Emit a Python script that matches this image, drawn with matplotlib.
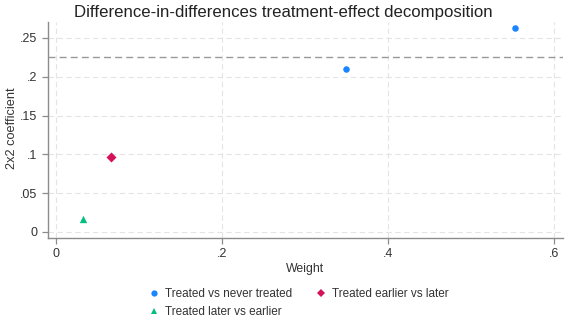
import matplotlib
matplotlib.use("Agg")
import matplotlib.pyplot as plt
from matplotlib.lines import Line2D

plt.rcParams['font.family'] = ['Liberation Sans', 'DejaVu Sans']

# Data
series_names = ["Treated vs never treated", "Treated earlier vs later", "Treated later vs earlier"]
never_w = [0.349, 0.553]
never_b = [0.2095, 0.263]
earlier_w = [0.066]
earlier_b = [0.096]
later_w = [0.033]
later_b = [0.017]
overall_effect = 0.2255
xticks = [0, 0.2, 0.4, 0.6]
xticklabels = ["0", ".2", ".4", ".6"]
yticks = [0, 0.05, 0.1, 0.15, 0.2, 0.25]
yticklabels = ["0", ".05", ".1", ".15", ".2", ".25"]

c_blue = "#1a85ff"
c_red = "#d41159"
c_green = "#00bf7f"
gray = "#8c8c8c"

fig = plt.figure(figsize=(5.66, 3.19), dpi=100)
ax = fig.add_axes([48/566, 1-238/319, (563-48)/566, (238-22)/319])

ax.scatter(never_w, never_b, s=22, marker='o', color=c_blue, linewidths=0, zorder=3)
ax.scatter(earlier_w, earlier_b, s=26, marker='D', color=c_red, linewidths=0, zorder=3)
ax.scatter(later_w, later_b, s=28, marker='^', color=c_green, linewidths=0, zorder=3)
ax.axhline(overall_effect, color='#999999', linestyle=(0, (5, 3)), linewidth=1.0, zorder=2)

ax.set_xlim(-0.0096, 0.611)
ax.set_ylim(-0.008, 0.2706)
ax.set_xticks(xticks)
ax.set_xticklabels(xticklabels)
ax.set_yticks(yticks)
ax.set_yticklabels(yticklabels)

ax.grid(True, color='#e4e4e4', linestyle=(0, (5, 3)), linewidth=0.8)
ax.set_axisbelow(True)
for s in ['top', 'right']:
    ax.spines[s].set_visible(False)
for s in ['left', 'bottom']:
    ax.spines[s].set_color(gray)
    ax.spines[s].set_linewidth(1.0)
ax.tick_params(axis='both', colors=gray, labelcolor='#333333', labelsize=9, length=4, width=0.9, direction='out')

ax.set_xlabel("Weight", fontsize=8.8, color='#333333', va='center')
ax.xaxis.set_label_coords((305-48)/515, -(269-238)/216)
ax.set_ylabel("2x2 coefficient", fontsize=9.2, color='#333333', va='center')
ax.yaxis.set_label_coords(-(48-12)/515, (238-128)/216)
fig.text(0.5, 1-12/319, "Difference-in-differences treatment-effect decomposition",
         ha='center', va='center', fontsize=12.1, color='#222222')

handles = [
    Line2D([], [], marker='o', color=c_blue, linestyle='None', markersize=4.5, markeredgewidth=0),
    Line2D([], [], marker='^', color=c_green, linestyle='None', markersize=5, markeredgewidth=0),
    Line2D([], [], marker='D', color=c_red, linestyle='None', markersize=4.5, markeredgewidth=0),
]
labels = [series_names[0], series_names[2], series_names[1]]
fig.legend(handles, labels, loc='center', bbox_to_anchor=(0.527, 1-303/319), ncol=2,
           frameon=False, fontsize=8.5, handlelength=1.0, handletextpad=0.4,
           columnspacing=2.0, labelspacing=0.5, labelcolor='#333333')

fig.savefig("out.png", dpi=100, facecolor='white')
